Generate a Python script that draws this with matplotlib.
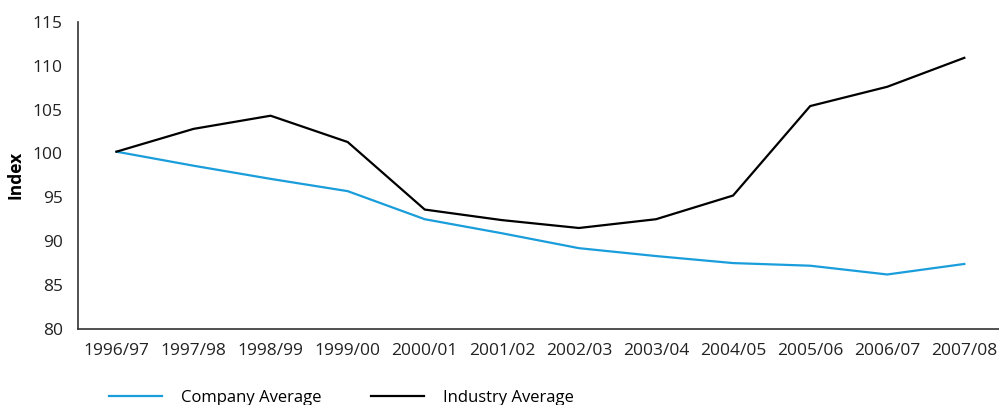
import matplotlib
matplotlib.use("Agg")
import matplotlib.pyplot as plt

# data
years = ["1996/97", "1997/98", "1998/99", "1999/00", "2000/01", "2001/02",
         "2002/03", "2003/04", "2004/05", "2005/06", "2006/07", "2007/08"]
company = [100.2, 98.6, 97.1, 95.7, 92.5, 90.9, 89.2, 88.3, 87.5, 87.2, 86.2, 87.4]
industry = [100.2, 102.8, 104.3, 101.3, 93.6, 92.4, 91.5, 92.5, 95.2, 105.4, 107.6, 110.9]

plt.rcParams['font.family'] = ['Open Sans', 'DejaVu Sans']

fig = plt.figure(figsize=(9.99, 4.05), dpi=100)
ax = fig.add_axes([0.078, 0.188, 0.922, 0.758])

x = range(len(years))
ax.plot(x, company, color="#1a9ddb", lw=1.6, label="Company Average")
ax.plot(x, industry, color="black", lw=1.6, label="Industry Average")

ax.set_xlim(-0.5, 11.45)
ax.set_ylim(80, 115)
ax.set_yticks(range(80, 116, 5))
ax.set_xticks(list(x))
ax.set_xticklabels(years)
ax.tick_params(length=0, labelsize=12.5, colors="#222222")
ax.tick_params(axis="x", pad=10)
ax.tick_params(axis="y", pad=11)
ax.set_ylabel("Index", fontsize=12.5, fontweight="bold", labelpad=6)

for s in ["top", "right"]:
    ax.spines[s].set_visible(False)
for s in ["left", "bottom"]:
    ax.spines[s].set_color("#333333")
    ax.spines[s].set_linewidth(1.2)

fig.legend(loc="lower left", bbox_to_anchor=(0.094, -0.04), ncol=2, frameon=False,
           fontsize=12, handlelength=3.2, handletextpad=1.1, columnspacing=3.0)

fig.savefig("out.png", dpi=100)
